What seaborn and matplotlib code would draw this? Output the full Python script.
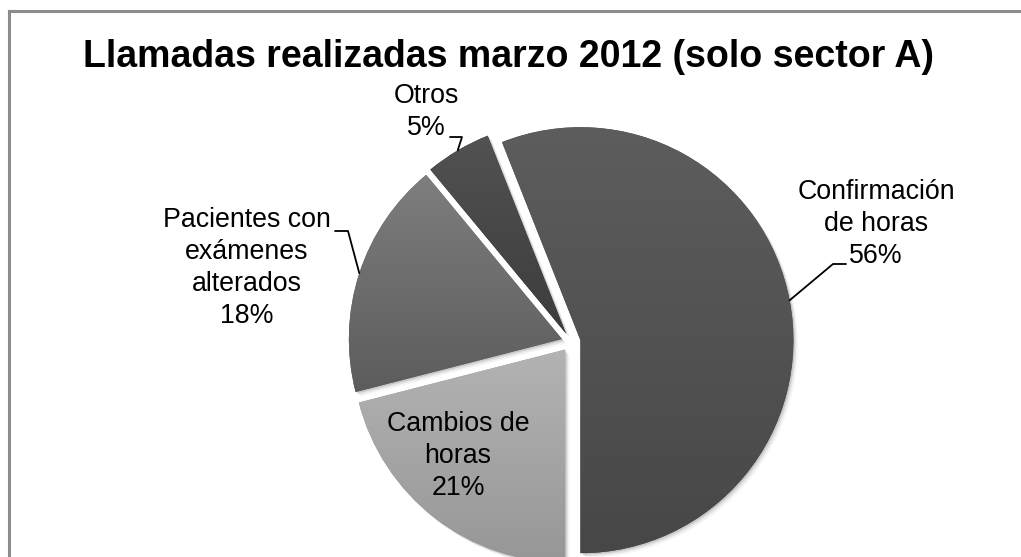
import numpy as np
import matplotlib
matplotlib.use("Agg")
import matplotlib.pyplot as plt
import seaborn as sns
from matplotlib.colors import LinearSegmentedColormap
from matplotlib.patches import Shadow
from matplotlib.lines import Line2D

# ---- data ----
categories = ["Confirmación\nde horas", "Cambios de\nhoras",
              "Pacientes con\nexámenes\nalterados", "Otros"]
shares = [56, 21, 18, 5]
pct_labels = ["56%", "21%", "18%", "5%"]
title = "Llamadas realizadas marzo 2012 (solo sector A)"

# ---- style ----
sns.set_style("white")
plt.rcParams["font.family"] = ["Liberation Sans", "DejaVu Sans"]

# per-slice vertical shading (top colour, bottom colour)
shades = [("#5d5d5d", "#474747"),
          ("#b3b3b3", "#979797"),
          ("#7e7e7e", "#5c5c5c"),
          ("#525252", "#3c3c3c")]

W, H = 1021, 557
R_PX = 213.0
CX, CY = 571.0, 342.0


def px(x, y):
    """pixel position (from top-left) -> data units of the pie axes"""
    return (x - CX) / R_PX, (CY - y) / R_PX


fig = plt.figure(figsize=(W / 100, H / 100), dpi=100)
fig.patch.set_facecolor("white")
ax = fig.add_axes([0, 0, 1, 1])

wedges, _ = ax.pie(shares, startangle=111.6, counterclock=False,
                   explode=[0.045] * len(shares), radius=1.0,
                   wedgeprops=dict(linewidth=0))

for w, (top, bot) in zip(wedges, shades):
    w.set_facecolor(bot)
    # soft drop shadow
    for k, a in zip((0.005, 0.010, 0.015), (0.12, 0.07, 0.04)):
        sh = Shadow(w, k, -k)
        sh.set_facecolor("#000000")
        sh.set_alpha(a)
        sh.set_zorder(w.get_zorder() - 0.5)
        ax.add_patch(sh)
    verts = w.get_path().vertices
    x0, x1 = verts[:, 0].min(), verts[:, 0].max()
    y0, y1 = verts[:, 1].min(), verts[:, 1].max()
    cmap = LinearSegmentedColormap.from_list("shade", [top, bot])
    grad = np.linspace(0, 1, 256).reshape(-1, 1)
    im = ax.imshow(grad, extent=[x0, x1, y0, y1], origin="upper",
                   cmap=cmap, aspect="auto", interpolation="bilinear",
                   zorder=w.get_zorder() + 0.1)
    im.set_clip_path(w)

fs = 19.3
lsp = 1.3
# labels outside with leader lines (text centre, elbow segment)
outside = {
    0: dict(text=(876, 224), line=[(846, 264), (833, 264)]),
    2: dict(text=(247, 268), line=[(335, 231), (348, 231)]),
    3: dict(text=(426, 112), line=[(450, 137), (462, 137)]),
}
for i, w in enumerate(wedges):
    label = f"{categories[i]}\n{pct_labels[i]}"
    if i in outside:
        cfg = outside[i]
        ax.text(*px(*cfg["text"]), label, ha="center", va="center",
                fontsize=fs, color="black", linespacing=lsp, zorder=10)
        mid = np.deg2rad((w.theta1 + w.theta2) / 2)
        cx, cy = w.center
        tip = (cx + w.r * np.cos(mid), cy + w.r * np.sin(mid))
        pts = [px(*p) for p in cfg["line"]] + [tip]
        xs, ys = zip(*pts)
        ax.add_line(Line2D(xs, ys, color="black", lw=1.3, zorder=10))
    else:
        ax.text(*px(458, 456), label, ha="center", va="center",
                fontsize=fs, color="black", linespacing=lsp, zorder=10)

ax.set_xlim(-CX / R_PX, (W - CX) / R_PX)
ax.set_ylim(-(H - CY) / R_PX, CY / R_PX)
ax.set_aspect("auto")
ax.axis("off")

fig.text(508 / W, 1 - 57 / H, title, ha="center", va="center",
         fontsize=27, fontweight="bold", color="black")

# chart frame: left and top edges (the rest lies outside the canvas)
fx, fy = 9 / W, 1 - 11 / H
fig.add_artist(Line2D([fx, fx], [0, fy], transform=fig.transFigure,
                      color="#8c8c8c", lw=2.2, solid_capstyle="projecting"))
fig.add_artist(Line2D([fx, 1], [fy, fy], transform=fig.transFigure,
                      color="#8c8c8c", lw=2.2, solid_capstyle="projecting"))

fig.savefig("out.png", dpi=100, facecolor="white")
